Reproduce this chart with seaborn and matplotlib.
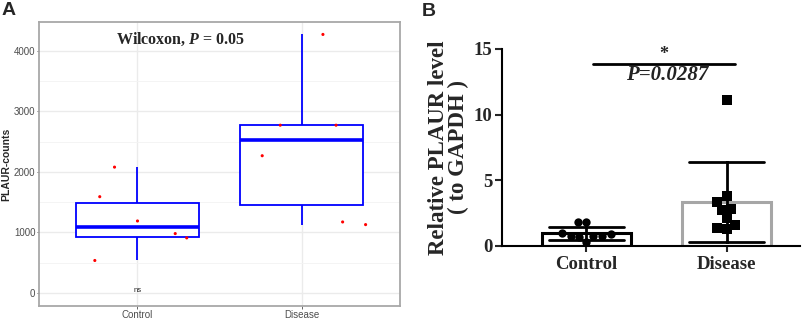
import numpy as np
import pandas as pd
import matplotlib
matplotlib.use('Agg')
import matplotlib.pyplot as plt
import seaborn as sns
from matplotlib.ticker import MultipleLocator

# ---- data ----
groups = ['Control', 'Disease']

# panel A: PLAUR counts (dataset), with the jitter offsets seen in the figure
counts_control = [538, 1591, 2079, 1190, 982, 911]
counts_disease = [2267, 2771, 4269, 2771, 1174, 1130]
jitter_control = [-0.26, -0.23, -0.14, 0.0, 0.23, 0.30]
jitter_disease = [-0.24, -0.13, 0.13, 0.21, 0.25, 0.39]
wilcox_label = 'Wilcoxon, $P$ = 0.05'

# panel B: relative PLAUR level (qPCR)
rel_control = [1.0, 1.8, 1.8, 0.72, 0.70, 0.33, 0.74, 0.76, 0.88]
rel_disease = [11.14, 3.81, 3.33, 2.82, 2.75, 2.16, 1.60, 1.27, 1.35]
p_label = 'P=0.0287'

# ---- tidy frames ----
dfa = pd.DataFrame({
    'group': ['Control'] * len(counts_control) + ['Disease'] * len(counts_disease),
    'counts': counts_control + counts_disease,
    'jit': jitter_control + jitter_disease,
})
dfa['xpos'] = dfa['group'].map({g: i for i, g in enumerate(groups)}) + dfa['jit']

dfb = pd.DataFrame({
    'group': ['Control'] * len(rel_control) + ['Disease'] * len(rel_disease),
    'rel': rel_control + rel_disease,
})

sns.set_style('white')
plt.rcParams['mathtext.fontset'] = 'custom'
plt.rcParams['mathtext.rm'] = 'Liberation Serif:bold'
plt.rcParams['mathtext.it'] = 'Liberation Serif:italic:bold'

fig = plt.figure(figsize=(8.03, 3.19), dpi=100)
axa = fig.add_axes([0.0486, 0.0408, 0.4496, 0.890])
axb = fig.add_axes([0.625, 0.229, 0.371, 0.618])

# ---------------- panel A ----------------
sns.boxplot(data=dfa, x='group', y='counts', order=groups, ax=axa, width=0.75,
            color='white', linecolor='#0000ff', linewidth=1.3, showcaps=False,
            fliersize=0, medianprops={'linewidth': 2.6, 'color': '#0000ff'},
            zorder=3)
sns.scatterplot(data=dfa, x='xpos', y='counts', ax=axa, color='red', s=5,
                edgecolor='none', legend=False, zorder=4)

axa.set_xlim(-0.6, 1.6)
axa.set_ylim(-213, 4473)
axa.yaxis.set_major_locator(MultipleLocator(1000))
axa.yaxis.set_minor_locator(MultipleLocator(500))
axa.grid(True, which='major', color='#ebebeb', linewidth=1.0, zorder=0)
axa.grid(True, which='minor', axis='y', color='#f3f3f3', linewidth=0.6, zorder=0)
axa.set_axisbelow(True)
for s in axa.spines.values():
    s.set_visible(True)
    s.set_color('#a8a8a8')
    s.set_linewidth(1.3)
axa.tick_params(axis='both', which='major', direction='out', length=1.8, width=0.6,
                color='#4d4d4d', labelcolor='#4d4d4d', labelsize=7, pad=0.8,
                left=True, bottom=True)
axa.tick_params(axis='both', which='minor', length=0)
for lab in axa.get_xticklabels() + axa.get_yticklabels():
    lab.set_fontfamily('Liberation Sans')
axa.set_xlabel('')
axa.set_ylabel('PLAUR-counts', fontsize=7.5, fontweight='bold', family='Liberation Sans',
               labelpad=2)
axa.text(0.26, 4180, wilcox_label, ha='center', va='center', fontsize=11.5,
         fontweight='bold', family='Liberation Serif')
axa.text(0, 40, 'ns', ha='center', va='center', fontsize=5.5, family='Liberation Sans',
         color='#222222')

# ---------------- panel B ----------------
sns.barplot(data=dfb, x='group', y='rel', order=groups, ax=axb, width=0.64,
            errorbar='sd', capsize=0.54, fill=False,
            err_kws={'color': 'black', 'linewidth': 2.0}, zorder=2)
edge_cols = ['black', '#a6a6a6']
for patch, ec in zip(axb.patches, edge_cols):
    patch.set_edgecolor(ec)
    patch.set_linewidth(2.2)
    patch.set_facecolor('white')
    patch.set_fill(True)

sns.swarmplot(data=dfb[dfb['group'] == 'Control'], x='group', y='rel', order=groups,
              ax=axb, color='black', marker='o', size=6, zorder=4)
sns.swarmplot(data=dfb[dfb['group'] == 'Disease'], x='group', y='rel', order=groups,
              ax=axb, color='black', marker='s', size=6.5, zorder=4)

axb.set_xlim(-0.603, 1.523)
axb.set_ylim(0, 15)
axb.set_yticks([0, 5, 10, 15])
sns.despine(ax=axb)
for side in ['left', 'bottom']:
    axb.spines[side].set_linewidth(1.5)
    axb.spines[side].set_color('black')
axb.tick_params(axis='y', direction='out', length=5, width=1.5, labelsize=13.5, pad=2,
                left=True)
axb.tick_params(axis='x', direction='out', length=4, width=1.5, labelsize=13.5, pad=3,
                bottom=True)
for lab in axb.get_xticklabels() + axb.get_yticklabels():
    lab.set_fontfamily('Liberation Serif')
    lab.set_fontweight('bold')
axb.set_xlabel('')
axb.set_ylabel('Relative PLAUR level\n( to GAPDH )', fontsize=16.5, fontweight='bold',
               family='Liberation Serif', linespacing=0.95, labelpad=3)

# significance bar
axb.plot([0.05, 1.06], [13.88, 13.88], color='black', linewidth=2.0, clip_on=False)
axb.text(0.555, 13.95, '*', ha='center', va='bottom', fontsize=13, fontweight='bold',
         family='Liberation Serif')
axb.text(0.575, 13.75, p_label, ha='center', va='top', fontsize=15, fontweight='bold',
         fontstyle='italic', family='Liberation Serif', color='#222222')

# panel letters
fig.text(0.002, 0.995, 'A', ha='left', va='top', fontsize=14, fontweight='bold',
         family='Liberation Sans')
fig.text(0.525, 0.99, 'B', ha='left', va='top', fontsize=14, fontweight='bold',
         family='Liberation Sans')

fig.savefig('out.png', dpi=100)
